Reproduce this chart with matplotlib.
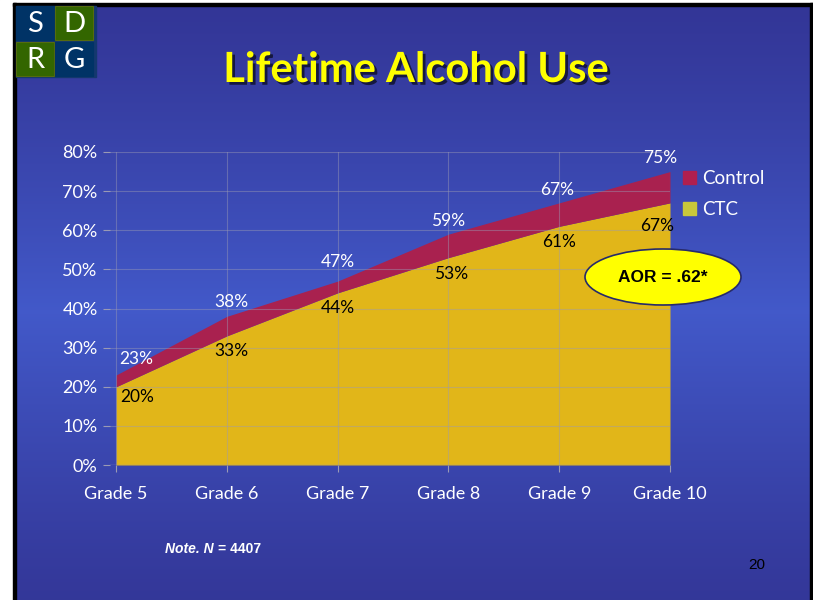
import numpy as np
import matplotlib
matplotlib.use("Agg")
import matplotlib.pyplot as plt
from matplotlib.patches import Rectangle, Ellipse, Patch
import matplotlib.patheffects as pe

# 데이터
grades = ["Grade 5", "Grade 6", "Grade 7", "Grade 8", "Grade 9", "Grade 10"]
control = [23, 38, 47, 59, 67, 75]
ctc = [20, 33, 44, 53, 61, 67]
yticks = [0, 10, 20, 30, 40, 50, 60, 70, 80]

W, H = 813, 600
FONT = "Lato"
NARROW = ["Liberation Sans Narrow", "Liberation Sans"]
C_CTRL = "#A9214F"
C_CTC = "#E1B619"

fig = plt.figure(figsize=(W / 100, H / 100), dpi=100)

# 배경 그라데이션 (위/아래 어둡고 가운데 밝음)
bg = fig.add_axes([0, 0, 1, 1], zorder=-10)
yy = np.linspace(0, 1, 600)[:, None]
w = 1 - np.abs(yy - 0.52) / 0.52
w = np.clip(w, 0, 1) ** 1.2
dark = np.array([0.20, 0.21, 0.59])
light = np.array([0.26, 0.35, 0.79])
grad = dark + (light - dark) * w[..., None]
grad = np.repeat(grad, 2, axis=1)
bg.imshow(grad, aspect="auto", extent=[0, W, H, 0], interpolation="bilinear")
bg.set_xlim(0, W); bg.set_ylim(H, 0); bg.axis("off")

# 겹쳐 그리는 축 (테두리, 로고, 제목, 타원)
ov = fig.add_axes([0, 0, 1, 1], zorder=10)
ov.set_xlim(0, W); ov.set_ylim(H, 0); ov.axis("off")
ov.patch.set_alpha(0)
ov.add_patch(Rectangle((0, 0), 13, H, color="white"))
ov.add_patch(Rectangle((0, 0), W, 3, color="white"))
ov.add_patch(Rectangle((13, 3), 3, H, color="black"))
ov.add_patch(Rectangle((13, 3), W, 3, color="black"))
ov.add_patch(Rectangle((810, 3), 3, H, color="black"))

# SDRG 로고
ov.add_patch(Rectangle((16, 6), 80, 71, color="#14386e"))
for (x0, y0, col, ch) in [(16, 6, "#003366", "S"), (55, 6, "#336600", "D"),
                          (16, 42, "#336600", "R"), (55, 42, "#003366", "G")]:
    ov.add_patch(Rectangle((x0, y0), 38, 34, facecolor=col,
                           edgecolor="#556b10" if col == "#336600" else col, lw=0.8))
    ov.text(x0 + 19, y0 + 18, ch, color="white", fontsize=21, family=FONT,
            ha="center", va="center")

# 제목
ov.text(416, 70, "Lifetime Alcohol Use", color="#FFFF00", fontsize=30,
        fontweight="bold", family=FONT, ha="center", va="center",
        path_effects=[pe.withSimplePatchShadow(offset=(2, -2), shadow_rgbFace="black",
                                               alpha=0.6)])

# 본 차트
ax = fig.add_axes([110 / W, 1 - 465 / H, (670 - 110) / W, (465 - 152) / H])
ax.patch.set_alpha(0)
x = np.arange(len(grades))
ax.fill_between(x, 0, ctc, color=C_CTC, lw=0, zorder=2)
ax.fill_between(x, ctc, control, color=C_CTRL, lw=0, zorder=2)
ax.set_xlim(-0.055, len(grades) - 1)
ax.set_ylim(0, 80)
ax.set_yticks(yticks)
ax.set_yticklabels([f"{v}%" for v in yticks])
ax.set_xticks(x)
ax.set_xticklabels(grades)
ax.grid(True, color="#9a9ab4", alpha=0.45, lw=0.8, zorder=3)
ax.set_axisbelow(False)
for s in ax.spines.values():
    s.set_visible(False)
ax.axhline(0, color="#9a9ab4", lw=0.9, zorder=3)
ax.tick_params(colors="#9a9ab4", length=5, width=0.8, labelcolor="white",
               labelsize=13, pad=4)
ax.tick_params(axis="x", pad=10)
for lab in ax.get_xticklabels() + ax.get_yticklabels():
    lab.set_family(FONT)

# 값 라벨
ctrl_dx = [20, 5, 0, 0, -2, -10]
ctrl_dy = [16, 14, 19, 13, 13, 14]
ctc_dx = [21, 5, 0, 3, 0, -13]
ctc_dy = [-10, -15, -15, -16, -16, -23]
for i in range(len(grades)):
    ax.annotate(f"{control[i]}%", (x[i], control[i]), xytext=(ctrl_dx[i], ctrl_dy[i]),
                textcoords="offset pixels", ha="center", va="center", color="white",
                fontsize=12.5, family=FONT, zorder=5, annotation_clip=False)
    ax.annotate(f"{ctc[i]}%", (x[i], ctc[i]), xytext=(ctc_dx[i], ctc_dy[i]),
                textcoords="offset pixels", ha="center", va="center", color="black",
                fontsize=12.5, family=FONT, zorder=5, annotation_clip=False)

# 범례
handles = [Patch(color="#B01F4F", label="Control"), Patch(color="#C8C83A", label="CTC")]
leg = fig.legend(handles=handles, loc="upper left", bbox_to_anchor=(666 / W, 1 - 153 / H),
                 frameon=False, handlelength=0.7, handleheight=0.7, handletextpad=0.3,
                 labelspacing=0.75, prop={"family": FONT, "size": 13.5})
for t in leg.get_texts():
    t.set_color("white")

# AOR 타원
ov.add_patch(Ellipse((663, 277), 156, 56, facecolor="#FFFF00", edgecolor="#262a6a",
                     lw=1.2, zorder=5))
ov.text(663, 278, "AOR = .62*", fontsize=12.5, fontweight="bold", family="Liberation Sans",
        ha="center", va="center", color="black", zorder=6)

# 하단 주석
ov.text(165, 549, "Note. N", fontsize=10, fontweight="bold",
        fontstyle="italic", family=NARROW, color="white", va="center")
ov.text(218, 549, "= 4407", fontsize=10, fontweight="bold",
        family=NARROW, color="white", va="center")
ov.text(748, 565, "20", fontsize=11, family="Liberation Sans",
        color="black", va="center")

fig.savefig("out.png", dpi=100)
